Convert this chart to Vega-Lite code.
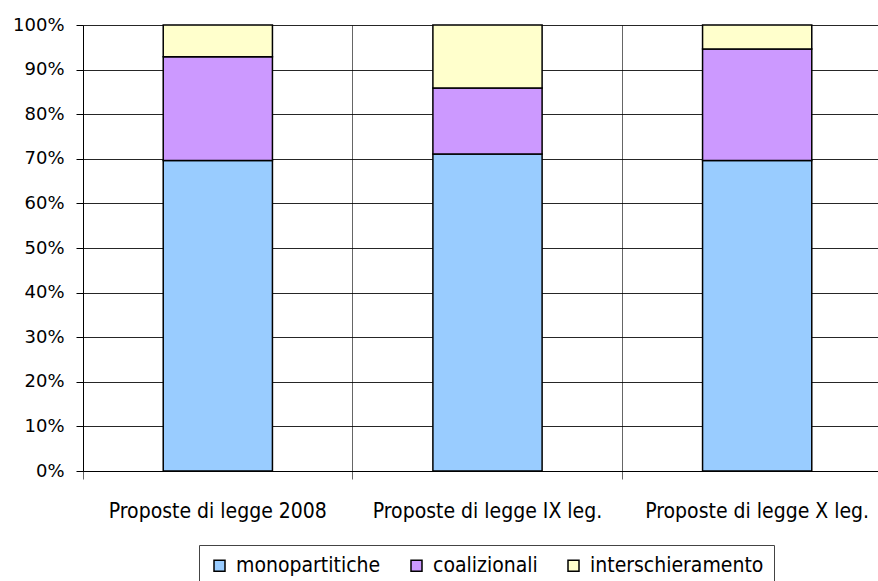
{
  "$schema": "https://vega.github.io/schema/vega-lite/v6.json",
  "autosize": "none",
  "width": 795,
  "height": 446,
  "padding": {"left": 83, "top": 25, "right": 0, "bottom": 110},
  "background": "white",
  "data": {
    "values": [
      {"cat": "Proposte di legge 2008", "serie": "monopartitiche", "ord": 1, "v": 69.6},
      {"cat": "Proposte di legge 2008", "serie": "coalizionali", "ord": 2, "v": 23.3},
      {"cat": "Proposte di legge 2008", "serie": "interschieramento", "ord": 3, "v": 7.1},
      {"cat": "Proposte  di legge IX leg.", "serie": "monopartitiche", "ord": 1, "v": 71.1},
      {"cat": "Proposte  di legge IX leg.", "serie": "coalizionali", "ord": 2, "v": 14.8},
      {"cat": "Proposte  di legge IX leg.", "serie": "interschieramento", "ord": 3, "v": 14.1},
      {"cat": "Proposte di legge X leg.", "serie": "monopartitiche", "ord": 1, "v": 69.6},
      {"cat": "Proposte di legge X leg.", "serie": "coalizionali", "ord": 2, "v": 25.0},
      {"cat": "Proposte di legge X leg.", "serie": "interschieramento", "ord": 3, "v": 5.4}
    ]
  },
  "mark": {"type": "bar", "width": {"band": 0.405}, "stroke": "black", "strokeWidth": 1.5},
  "encoding": {
    "x": {
      "field": "cat",
      "type": "nominal",
      "sort": null,
      "title": null,
      "scale": {"paddingInner": 0, "paddingOuter": 0, "range": [0, 809]},
      "axis": {
        "bandPosition": 0,
        "labelAngle": 0,
        "labelLimit": 0,
        "labelFont": "DejaVu Sans Condensed, Open Sans",
        "labelFontSize": 21,
        "labelColor": "black",
        "labelPadding": 21,
        "grid": true,
        "gridColor": "#666666",
        "gridWidth": 1,
        "ticks": true,
        "tickSize": 8,
        "tickColor": "#666666",
        "domainColor": "black",
        "domainWidth": 1,
        "zindex": 0
      }
    },
    "y": {
      "field": "v",
      "type": "quantitative",
      "stack": "normalize",
      "title": null,
      "scale": {"domain": [0, 1], "nice": false},
      "axis": {
        "format": ".0%",
        "values": [0, 0.1, 0.2, 0.3, 0.4, 0.5, 0.6, 0.7, 0.8, 0.9, 1],
        "labelFont": "DejaVu Sans",
        "labelFontSize": 18,
        "labelColor": "black",
        "labelPadding": 12,
        "grid": true,
        "gridColor": "black",
        "gridWidth": 1,
        "gridOpacity": 0.85,
        "tickSize": 7,
        "tickColor": "black",
        "domainColor": "black",
        "domainWidth": 1,
        "zindex": 0
      }
    },
    "color": {
      "field": "serie",
      "type": "nominal",
      "sort": ["monopartitiche", "coalizionali", "interschieramento"],
      "scale": {
        "domain": ["monopartitiche", "coalizionali", "interschieramento"],
        "range": ["#99CCFF", "#CC99FF", "#FFFFCC"]
      },
      "legend": {
        "title": null,
        "orient": "none",
        "legendX": 116,
        "legendY": 520,
        "direction": "horizontal",
        "columns": 3,
        "columnPadding": 25,
        "symbolType": "square",
        "symbolSize": 121,
        "symbolStrokeColor": "black",
        "symbolStrokeWidth": 1.5,
        "symbolOpacity": 1,
        "labelLimit": 0,
        "labelFont": "DejaVu Sans Condensed, Open Sans",
        "labelFontSize": 21,
        "labelColor": "black",
        "labelOffset": 6,
        "strokeColor": "#444444",
        "fillColor": "white",
        "padding": 10
      }
    },
    "order": {"field": "ord", "type": "quantitative"}
  },
  "config": {"view": {"stroke": null}}
}
